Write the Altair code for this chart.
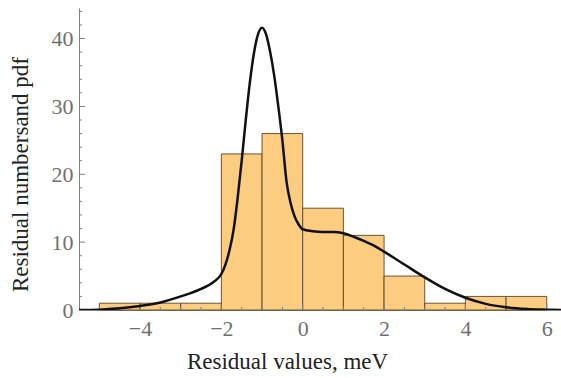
import altair as alt
import pandas as pd

# Histogram bins (meV) and counts
bin_start = [-5, -4, -3, -2, -1, 0, 1, 2, 3, 4, 5]
bin_end = [-4, -3, -2, -1, 0, 1, 2, 3, 4, 5, 6]
counts = [1, 1, 1, 23, 26, 15, 11, 5, 1, 2, 2]

# pdf curve
curve_x = [-5.5, -5, -4.5, -4, -3.5, -3, -2.5, -2.2, -2, -1.9, -1.8, -1.7, -1.6, -1.5,
           -1.4, -1.3, -1.2, -1.1, -1.0, -0.9, -0.8, -0.7, -0.6, -0.5, -0.4, -0.3,
           -0.2, -0.1, 0, 0.25, 0.5, 0.75, 1, 1.25, 1.5, 1.75, 2, 2.5, 3, 3.5, 4,
           4.5, 5, 5.5, 6, 6.35]
curve_y = [0.0, 0.05, 0.25, 0.6, 1.1, 2.0, 3.1, 4.1, 5.3, 6.7, 8.8, 11.8, 16.5, 22,
           28, 33.5, 37.8, 40.6, 41.6, 40.6, 38, 34.5, 30, 25, 19, 15.8,
           13.8, 12.6, 11.9, 11.6, 11.5, 11.5, 11.3, 10.8, 10.2, 9.5, 8.6, 6.7, 4.8, 3.1, 1.8,
           0.9, 0.4, 0.15, 0.05, 0.0]

x_major = [-4, -2, 0, 2, 4, 6]
x_minor = [-5, -4.5, -3.5, -3, -2.5, -1.5, -1, -0.5, 0.5, 1, 1.5, 2.5, 3, 3.5, 4.5, 5, 5.5]
y_major = [0, 10, 20, 30, 40]
y_minor = [2, 4, 6, 8, 12, 14, 16, 18, 22, 24, 26, 28, 32, 34, 36, 38, 42, 44]

W, H = 482, 302
XDOM = [-5.5, 6.35]
YDOM = [0, 44.5]

hist = pd.DataFrame({"a": bin_start, "b": bin_end, "n": counts})
curve = pd.DataFrame({"x": curve_x, "y": curve_y})

xs = alt.Scale(domain=XDOM, nice=False, zero=False)
ys = alt.Scale(domain=YDOM, nice=False)

font = "Liberation Serif"

bars = alt.Chart(hist).mark_rect(
    fill="#FCCC80", stroke="#5a4626", strokeWidth=0.9
).encode(
    x=alt.X("a:Q", scale=xs, axis=alt.Axis(
        values=x_major, tickSize=0, labelPadding=8, domainColor="#808080",
        labelColor="#707070", labelFont=font, labelFontSize=22,
        title="Residual values, meV", titleFont=font, titleFontSize=23,
        titleFontWeight="normal", titleColor="#222222", grid=False,
        titleX=208, titleY=58, titleBaseline="alphabetic")),
    x2="b:Q",
    y=alt.Y("n:Q", scale=ys, axis=alt.Axis(
        values=y_major, tickSize=0, labelPadding=6, domainColor="#808080",
        labelColor="#707070", labelFont=font, labelFontSize=22,
        title="Residual numbersand pdf", titleFont=font, titleFontSize=23,
        titleFontWeight="normal", titleColor="#222222", grid=False,
        titleX=-47, titleY=166)),
    y2=alt.datum(0),
)

line = alt.Chart(curve).mark_line(
    color="#111111", strokeWidth=2.5, interpolate="monotone", clip=True
).encode(x=alt.X("x:Q", scale=xs), y=alt.Y("y:Q", scale=ys))

tick_col = "#808080"
xmaj = alt.Chart(pd.DataFrame({"t": x_major})).mark_rule(color=tick_col, strokeWidth=1).encode(
    x=alt.X("t:Q", scale=xs), y=alt.value(H), y2=alt.value(H - 6))
xmin = alt.Chart(pd.DataFrame({"t": x_minor})).mark_rule(color=tick_col, strokeWidth=1).encode(
    x=alt.X("t:Q", scale=xs), y=alt.value(H), y2=alt.value(H - 3))
ymaj = alt.Chart(pd.DataFrame({"t": y_major})).mark_rule(color=tick_col, strokeWidth=1).encode(
    y=alt.Y("t:Q", scale=ys), x=alt.value(0), x2=alt.value(6))
ymin = alt.Chart(pd.DataFrame({"t": y_minor})).mark_rule(color=tick_col, strokeWidth=1).encode(
    y=alt.Y("t:Q", scale=ys), x=alt.value(0), x2=alt.value(3))

chart = alt.layer(bars, xmaj, xmin, ymaj, ymin, line).properties(
    width=W, height=H,
    autosize=alt.AutoSizeParams(type="none"),
    padding={"left": 79, "top": 8, "right": 0, "bottom": 68},
    background="white",
).configure_view(stroke=None)

chart.save("out.html", embed_options={"renderer": "svg", "actions": False})
